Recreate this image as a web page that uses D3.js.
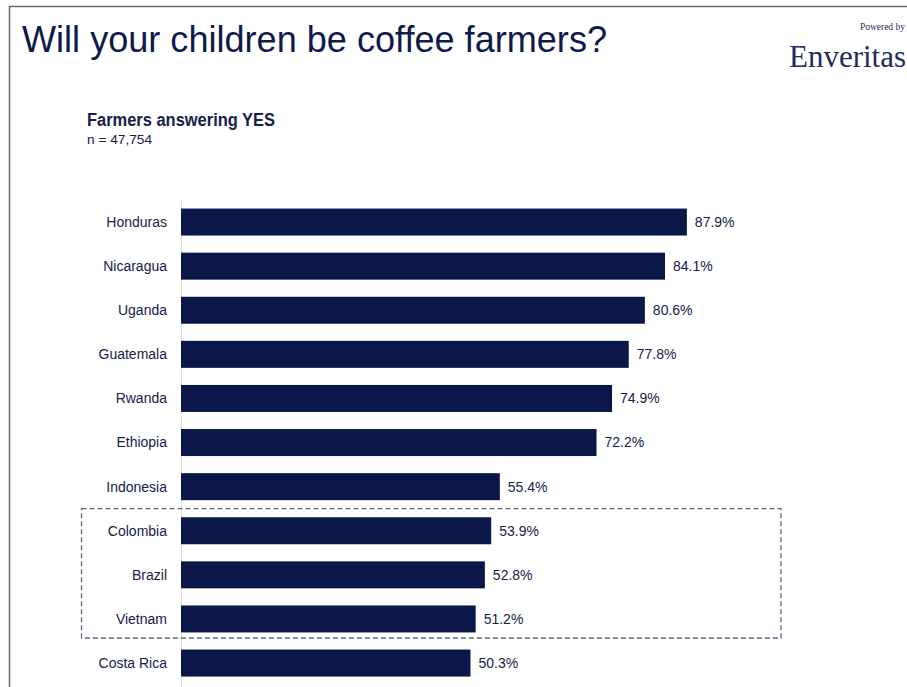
<!DOCTYPE html>
<html>
<head>
<meta charset="utf-8">
<script src="https://cdn.jsdelivr.net/npm/d3@7"></script>
<style>
  body { margin: 0; background: #fff; }
  text { font-family: "Liberation Sans", Arial, Helvetica, sans-serif; }
</style>
</head>
<body>
<div id="vis"></div>
<script>
// Frame constants
const FRAME_WIDTH = 907;
const FRAME_HEIGHT = 687;
const MARGINS = {left: 181, top: 200, bottom: 2};

// Data
const countries = ["Honduras", "Nicaragua", "Uganda", "Guatemala", "Rwanda", "Ethiopia",
                   "Indonesia", "Colombia", "Brazil", "Vietnam", "Costa Rica"];
const yesShare = [87.9, 84.1, 80.6, 77.8, 74.9, 72.2, 55.4, 53.9, 52.8, 51.2, 50.3];
const highlighted = ["Colombia", "Brazil", "Vietnam"];

const data = countries.map((c, i) => ({country: c, value: yesShare[i]}));

const NAVY = "#0a1748";
const TEXT = "#16214a";
const SERIF = "'Liberation Serif', 'Times New Roman', serif";

const FRAME = d3.select("#vis")
  .append("svg")
    .attr("width", FRAME_WIDTH)
    .attr("height", FRAME_HEIGHT);

// Slide border
FRAME.append("path")
  .attr("d", "M9.5," + FRAME_HEIGHT + " V6.5 H" + FRAME_WIDTH)
  .attr("fill", "none")
  .attr("stroke", "#6b6b6b")
  .attr("stroke-width", 1.5);

// Title
FRAME.append("text")
  .attr("x", 22)
  .attr("y", 52)
  .attr("font-size", 36)
  .attr("textLength", 585)
  .attr("lengthAdjust", "spacingAndGlyphs")
  .attr("fill", "#0d1a4a")
  .text("Will your children be coffee farmers?");

// Logo
FRAME.append("text")
  .attr("x", 905)
  .attr("y", 30)
  .attr("text-anchor", "end")
  .attr("font-size", 9.5)
  .style("font-family", SERIF)
  .attr("fill", "#1d2b5e")
  .text("Powered by");

FRAME.append("text")
  .attr("x", 789)
  .attr("y", 67)
  .attr("font-size", 31)
  .attr("textLength", 117)
  .attr("lengthAdjust", "spacingAndGlyphs")
  .style("font-family", SERIF)
  .attr("fill", "#1d2b5e")
  .text("Enveritas");

// Subtitle
FRAME.append("text")
  .attr("x", 87)
  .attr("y", 126)
  .attr("font-size", 18)
  .attr("font-weight", "bold")
  .attr("textLength", 188)
  .attr("lengthAdjust", "spacingAndGlyphs")
  .attr("fill", TEXT)
  .text("Farmers answering YES");

FRAME.append("text")
  .attr("x", 87)
  .attr("y", 144)
  .attr("font-size", 13)
  .attr("textLength", 65)
  .attr("lengthAdjust", "spacingAndGlyphs")
  .attr("fill", TEXT)
  .text("n = 47,754");

// Scales
const X_SCALE = d3.scaleLinear()
  .domain([0, 100])
  .range([MARGINS.left, MARGINS.left + 575.5]);

const Y_SCALE = d3.scaleBand()
  .domain(countries)
  .range([MARGINS.top, MARGINS.top + 44.1 * countries.length])
  .paddingInner(0.388)
  .paddingOuter(0.194);

// Axis line
FRAME.append("line")
  .attr("x1", X_SCALE(0) + 0.5)
  .attr("x2", X_SCALE(0) + 0.5)
  .attr("y1", MARGINS.top)
  .attr("y2", FRAME_HEIGHT)
  .attr("stroke", "#dedede")
  .attr("stroke-width", 1);

// Highlight box around selected countries
const gap = Y_SCALE.step() - Y_SCALE.bandwidth();
const boxTop = Y_SCALE(highlighted[0]) - gap / 2;
const boxBottom = Y_SCALE(highlighted[highlighted.length - 1]) + Y_SCALE.bandwidth() + gap / 2 - 3;
FRAME.append("rect")
  .attr("x", 81.5)
  .attr("y", boxTop)
  .attr("width", 781 - 81.5)
  .attr("height", boxBottom - boxTop)
  .attr("fill", "none")
  .attr("stroke", "#5d6685")
  .attr("stroke-width", 1.3)
  .attr("stroke-dasharray", "5,3");

// Bars
FRAME.selectAll(".bar")
  .data(data)
  .enter()
  .append("rect")
    .attr("class", "bar")
    .attr("x", X_SCALE(0))
    .attr("y", (d) => Y_SCALE(d.country))
    .attr("width", (d) => X_SCALE(d.value) - X_SCALE(0))
    .attr("height", Y_SCALE.bandwidth())
    .attr("fill", NAVY);

// Category labels
FRAME.selectAll(".cat")
  .data(data)
  .enter()
  .append("text")
    .attr("class", "cat")
    .attr("x", 167)
    .attr("y", (d) => Y_SCALE(d.country) + Y_SCALE.bandwidth() / 2)
    .attr("dy", "0.35em")
    .attr("text-anchor", "end")
    .attr("font-size", 14)
    .attr("fill", TEXT)
    .text((d) => d.country);

// Value labels
FRAME.selectAll(".val")
  .data(data)
  .enter()
  .append("text")
    .attr("class", "val")
    .attr("x", (d) => X_SCALE(d.value) + 8)
    .attr("y", (d) => Y_SCALE(d.country) + Y_SCALE.bandwidth() / 2)
    .attr("dy", "0.35em")
    .attr("font-size", 14)
    .attr("fill", TEXT)
    .text((d) => d.value.toFixed(1) + "%");
</script>
</body>
</html>
